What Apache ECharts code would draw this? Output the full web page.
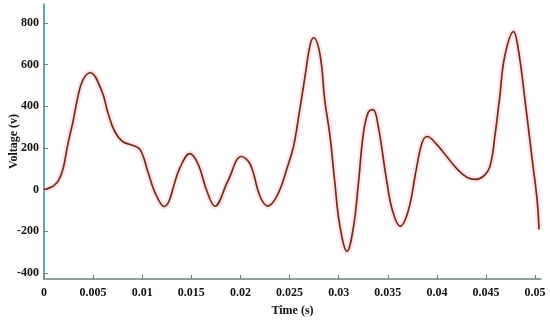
<!DOCTYPE html>
<html>
<head>
<meta charset="utf-8">
<script src="https://cdn.jsdelivr.net/npm/echarts@6/dist/echarts.min.js"></script>
<style>html,body{margin:0;padding:0;background:#fff}#c{width:550px;height:324px}</style>
</head>
<body>
<div id="c"></div>
<script>
// time in milliseconds
var timeMs = [0, 0.5, 1.0, 1.5, 1.95, 2.45, 2.95, 3.45, 3.95, 4.7, 5.9, 6.5, 7.2, 8.0, 9.0, 9.8, 10.6, 11.3, 12.2,
  13.85, 14.85, 15.7, 16.6, 17.4, 18.7, 20.1, 21.0, 22.0, 22.8, 23.8, 24.8, 25.4, 25.8, 26.6, 27.1, 27.45, 28.1, 28.6, 29.1,
  29.6, 30.1, 30.85, 31.5, 32.0, 32.5, 33.0, 33.5, 34.0, 34.9, 35.5, 36.25, 37.1, 37.9, 38.5, 39.0, 40.0, 41.0, 42.1, 43.1,
  43.9, 44.7, 45.4, 45.9, 46.4, 46.9, 47.8, 48.3, 49.0, 49.7, 50.2, 50.4];
var voltage = [0, 6, 18, 45, 100, 222, 325, 445, 525, 560, 470, 369, 278, 230, 212, 190, 81, -15, -82,
  105, 172, 120, -10, -80, 38, 158, 120, -34, -80, -24, 110, 205, 311, 550, 695, 728, 647, 422, 263,
  38, -168, -297, -182, 24, 263, 369, 383, 311, 38, -105, -177, -100, 96, 225, 254, 215, 158, 96, 57,
  48, 62, 110, 254, 445, 637, 757, 670, 417, 144, -48, -192];
var xTicks = [0, 0.005, 0.01, 0.015, 0.02, 0.025, 0.03, 0.035, 0.04, 0.045, 0.05];
var xTickLabels = ['0', '0.005', '0.01', '0.015', '0.02', '0.025', '0.03', '0.035', '0.04', '0.045', '0.05'];
var yTicks = [-400, -200, 0, 200, 400, 600, 800];

var pts = timeMs.map(function (t, i) { return [t / 1000, voltage[i]]; });
var font = 'Liberation Serif';
var chart = echarts.init(document.getElementById('c'), null, {renderer: 'canvas'});
chart.setOption({
  animation: false,
  backgroundColor: '#fff',
  grid: {left: 44, right: 9, top: 4, bottom: 45, containLabel: false, outerBoundsMode: 'none'},
  xAxis: {
    type: 'value', min: 0, max: 0.0506,
    name: 'Time (s)', nameLocation: 'middle', nameGap: 26, nameMoveOverlap: false,
    nameTextStyle: {fontFamily: font, fontWeight: 'bold', fontSize: 12, color: '#111'},
    axisLine: {show: true, onZero: false, lineStyle: {color: '#6f7f7f', width: 1.5}},
    axisTick: {show: true, inside: true, length: 4, customValues: xTicks, lineStyle: {color: '#777'}},
    axisLabel: {customValues: xTicks, margin: 8, fontFamily: font, fontWeight: 'bold', fontSize: 12, color: '#111',
      formatter: function (v) { var i = xTicks.indexOf(v); return i >= 0 ? xTickLabels[i] : ''; }},
    splitLine: {show: false}
  },
  yAxis: {
    type: 'value', min: -430, max: 890,
    name: 'Voltage (v)', nameLocation: 'middle', nameGap: 24, nameMoveOverlap: false,
    nameTextStyle: {fontFamily: font, fontWeight: 'bold', fontSize: 12, color: '#111'},
    axisLine: {show: true, onZero: false, lineStyle: {color: '#2f8a8a', width: 1.5}},
    axisTick: {show: true, inside: true, length: 4, customValues: yTicks, lineStyle: {color: '#777'}},
    axisLabel: {customValues: yTicks, margin: 5, fontFamily: font, fontWeight: 'bold', fontSize: 12, color: '#111'},
    splitLine: {show: false}
  },
  series: [
    {type: 'line', data: pts, smooth: 0.4, symbol: 'none', silent: true,
      lineStyle: {color: 'rgba(255,185,205,0.4)', width: 6}, z: 1},
    {type: 'line', data: pts, smooth: 0.4, symbol: 'none',
      lineStyle: {color: '#6e3014', width: 1.7}, z: 2}
  ]
});
</script>
</body>
</html>
